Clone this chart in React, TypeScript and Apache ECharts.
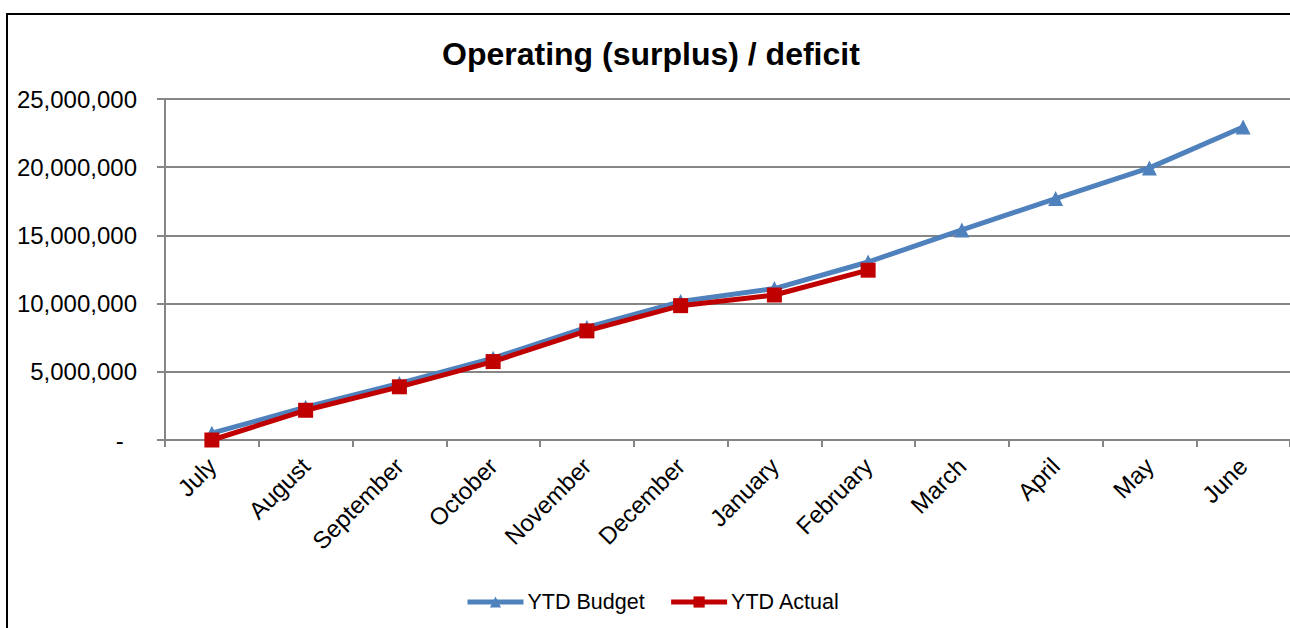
import React, { useEffect, useRef } from "react";
import * as echarts from "echarts";

const months = ["July", "August", "September", "October", "November", "December", "January", "February", "March", "April", "May", "June"];
const ytdBudget = [500000, 2400000, 4150000, 6000000, 8250000, 10150000, 11100000, 13050000, 15400000, 17700000, 19950000, 22950000];
const ytdActual = [0, 2180000, 3900000, 5750000, 8000000, 9850000, 10630000, 12450000, null, null, null, null];
const yTicks = { min: 0, max: 25000000, interval: 5000000 };

const FONT = "'Liberation Sans', Arial, sans-serif";

export default function App() {
  const ref = useRef<HTMLDivElement>(null);
  useEffect(() => {
    document.body.style.margin = "0";
    const chart = echarts.init(ref.current!, null, { renderer: "svg" });
    chart.setOption({
      animation: false,
      backgroundColor: "#ffffff",
      textStyle: { fontFamily: FONT },
      title: {
        text: "Operating (surplus) / deficit",
        left: 437,
        top: 33,
        textStyle: { fontFamily: FONT, fontSize: 32, fontWeight: "bold", color: "#000" },
      },
      graphic: [
        {
          type: "rect",
          shape: { x: 7, y: 14, width: 1400, height: 800 },
          style: { fill: "none", stroke: "#000", lineWidth: 2 },
          silent: true,
        },
      ],
      grid: { left: 165, right: -1, top: 99, bottom: 188, containLabel: false },
      legend: {
        bottom: 10,
        left: 460,
        itemWidth: 56,
        itemHeight: 14,
        itemGap: 24,
        lineStyle: { width: 5 },
        textStyle: { fontFamily: FONT, fontSize: 21.5, color: "#000", padding: [0, 0, 0, -1] },
        data: ["YTD Budget", "YTD Actual"],
      },
      xAxis: {
        type: "category",
        data: months,
        boundaryGap: true,
        axisLine: { lineStyle: { color: "#868686", width: 2 } },
        axisTick: { show: true, length: 7, lineStyle: { color: "#868686", width: 2 } },
        axisLabel: { rotate: 45, fontSize: 24, color: "#000", margin: 22, fontFamily: FONT },
      },
      yAxis: {
        type: "value",
        min: yTicks.min,
        max: yTicks.max,
        interval: yTicks.interval,
        axisLine: { show: true, lineStyle: { color: "#868686", width: 2 } },
        axisTick: { show: true, length: 8, lineStyle: { color: "#868686", width: 2 } },
        splitLine: { show: true, lineStyle: { color: "#868686", width: 2 } },
        axisLabel: {
          fontSize: 24,
          color: "#000",
          margin: 28,
          fontFamily: FONT,
          formatter: (v: number) => (v === 0 ? "-\u00a0\u00a0" : v.toLocaleString("en-US")),
        },
      },
      series: [
        {
          name: "YTD Budget",
          type: "line",
          data: ytdBudget,
          color: "#4F81BD",
          symbol: "triangle",
          symbolSize: 15,
          lineStyle: { width: 5, color: "#4F81BD" },
          itemStyle: { color: "#4F81BD" },
        },
        {
          name: "YTD Actual",
          type: "line",
          data: ytdActual,
          color: "#C00000",
          symbol: "rect",
          symbolSize: 15,
          lineStyle: { width: 5, color: "#C00000" },
          itemStyle: { color: "#C00000" },
        },
      ],
    });
    return () => chart.dispose();
  }, []);
  return <div ref={ref} style={{ width: 1290, height: 628 }} />;
}
